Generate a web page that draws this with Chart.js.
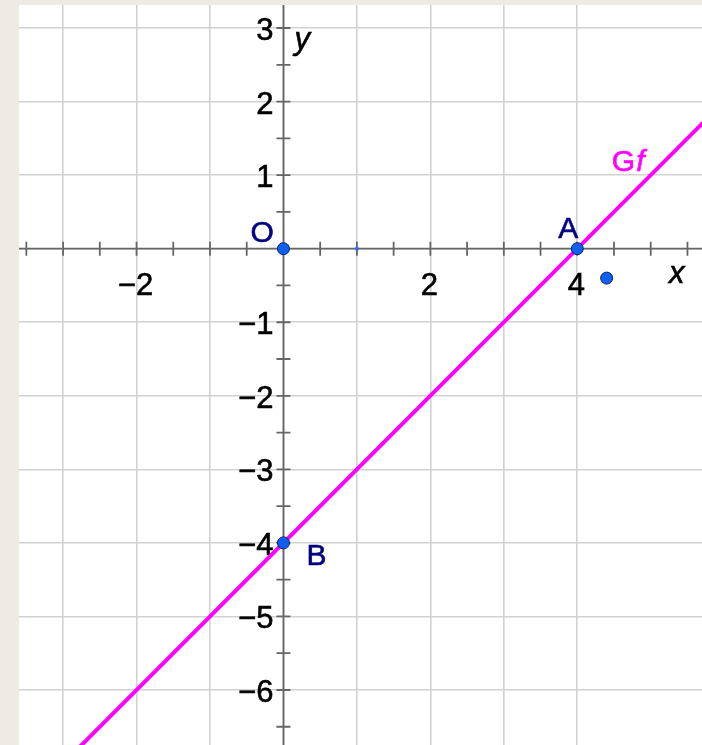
<!DOCTYPE html>
<html>
<head>
<meta charset="utf-8">
<script src="https://cdn.jsdelivr.net/npm/chart.js@4/dist/chart.umd.min.js"></script>
<style>
  html, body { margin: 0; padding: 0; background: #eeebe4; width: 702px; height: 745px; overflow: hidden; }
  #wrap { position: absolute; left: 19px; top: 5px; width: 683px; height: 740px; background: #ffffff; }
</style>
</head>
<body>
<div id="wrap"><canvas id="c"></canvas></div>
<script>
// ---- data ----
const xRange = [-3.6, 5.698];
const yRange = [-6.748, 3.313];
const xTickLabels = [-2, 2, 4];
const yTickLabels = [3, 2, 1, -1, -2, -3, -4, -5, -6];
const lineXs = [-3, 6];          // graph Gf : passes through A(4,0) and B(0,-4)
const lineYs = [-7, 2];
const pointNames = ['O', 'A', 'B', ''];
const pointXs = [0, 4, 0, 4.4];
const pointYs = [0, 0, -4, -0.4];
const smallPointXs = [1];
const smallPointYs = [0];

const FONT = '"Liberation Sans", Arial, sans-serif';
const MINUS = '\u2212';
const fmt = v => (v < 0 ? MINUS + Math.abs(v) : String(v));

function txt(ctx, s, x, y) {
  ctx.fillText(s, x, y);
  ctx.strokeText(s, x, y);
}

const axesPlugin = {
  id: 'geoAxes',
  beforeDatasetsDraw(chart) {
    const { ctx, chartArea: a, scales: { x, y } } = chart;
    const x0 = x.getPixelForValue(0), y0 = y.getPixelForValue(0);
    ctx.save();
    ctx.strokeStyle = '#666666';
    ctx.lineWidth = 1.8;
    ctx.beginPath();
    ctx.moveTo(a.left, y0); ctx.lineTo(a.right, y0);
    ctx.moveTo(x0, a.top); ctx.lineTo(x0, a.bottom);
    // ticks every 0.5
    for (let v = Math.ceil(xRange[0] * 2) / 2; v <= xRange[1]; v += 0.5) {
      if (v === 0) continue;
      const px = x.getPixelForValue(v);
      ctx.moveTo(px, y0 - 7); ctx.lineTo(px, y0 + 7);
    }
    for (let v = Math.ceil(yRange[0] * 2) / 2; v <= yRange[1]; v += 0.5) {
      if (v === 0) continue;
      const py = y.getPixelForValue(v);
      ctx.moveTo(x0 - 7, py); ctx.lineTo(x0 + 7, py);
    }
    ctx.stroke();
    // tick labels
    ctx.fillStyle = '#000000';
    ctx.strokeStyle = '#000000';
    ctx.lineWidth = 0.6;
    ctx.font = '31px ' + FONT;
    ctx.textAlign = 'center';
    ctx.textBaseline = 'alphabetic';
    xTickLabels.forEach(v => txt(ctx, fmt(v), x.getPixelForValue(v) - 1, y0 + 46));
    ctx.textAlign = 'right';
    yTickLabels.forEach(v => txt(ctx, fmt(v), x0 - 10, y.getPixelForValue(v) + 12));
    // axis names
    ctx.font = 'italic 31px ' + FONT;
    ctx.textAlign = 'left';
    txt(ctx, 'x', x.getPixelForValue(5.25), y0 + 34);
    txt(ctx, 'y', x0 + 11, y.getPixelForValue(3) + 21);
    ctx.restore();
  },
  afterDatasetsDraw(chart) {
    const { ctx, scales: { x, y } } = chart;
    ctx.save();
    ctx.fillStyle = '#000080';
    ctx.strokeStyle = '#000080';
    ctx.lineWidth = 0.6;
    ctx.font = '30px ' + FONT;
    ctx.textBaseline = 'alphabetic';
    ctx.textAlign = 'left';
    const offs = { O: [-33, -7], A: [-19, -11], B: [23, 22] };
    pointNames.forEach((n, i) => {
      if (!n) return;
      const px = x.getPixelForValue(pointXs[i]), py = y.getPixelForValue(pointYs[i]);
      txt(ctx, n, px + offs[n][0], py + offs[n][1]);
    });
    // Gf label
    ctx.fillStyle = '#ff00ff';
    ctx.strokeStyle = '#ff00ff';
    const gx = x.getPixelForValue(4.47), gy = y.getPixelForValue(1.06);
    ctx.font = '30px ' + FONT;
    txt(ctx, 'G', gx, gy);
    const w = ctx.measureText('G').width;
    ctx.font = 'italic 30px ' + FONT;
    txt(ctx, 'f', gx + w + 1, gy);
    ctx.restore();
  }
};

new Chart(document.getElementById('c'), {
  type: 'scatter',
  data: {
    datasets: [
      {
        label: 'Gf',
        order: 3,
        data: lineXs.map((v, i) => ({ x: v, y: lineYs[i] })),
        showLine: true,
        borderColor: '#ff00ff',
        borderWidth: 4,
        pointRadius: 0,
        fill: false
      },
      {
        label: 'small',
        order: 2,
        data: smallPointXs.map((v, i) => ({ x: v, y: smallPointYs[i] })),
        pointRadius: 2,
        pointBackgroundColor: '#2a6cff',
        pointBorderWidth: 0
      },
      {
        label: 'points',
        order: 1,
        data: pointXs.map((v, i) => ({ x: v, y: pointYs[i] })),
        pointRadius: 6,
        pointBackgroundColor: '#0f5ff0',
        pointBorderColor: '#0a2466',
        pointBorderWidth: 1
      }
    ]
  },
  options: {
    responsive: true,
    maintainAspectRatio: false,
    animation: false,
    layout: { padding: 0, autoPadding: false },
    plugins: { legend: { display: false }, tooltip: { enabled: false } },
    scales: {
      x: {
        type: 'linear', min: xRange[0], max: xRange[1],
        ticks: { display: false, stepSize: 1 },
        afterBuildTicks: s => { s.ticks = s.ticks.filter(t => Number.isInteger(t.value)); },
        grid: { color: '#d2d2d2', lineWidth: 1.6, drawTicks: false },
        border: { display: false }
      },
      y: {
        type: 'linear', min: yRange[0], max: yRange[1],
        ticks: { display: false, stepSize: 1 },
        afterBuildTicks: s => { s.ticks = s.ticks.filter(t => Number.isInteger(t.value)); },
        grid: { color: '#d2d2d2', lineWidth: 1.6, drawTicks: false },
        border: { display: false }
      }
    }
  },
  plugins: [axesPlugin]
});
</script>
</body>
</html>
